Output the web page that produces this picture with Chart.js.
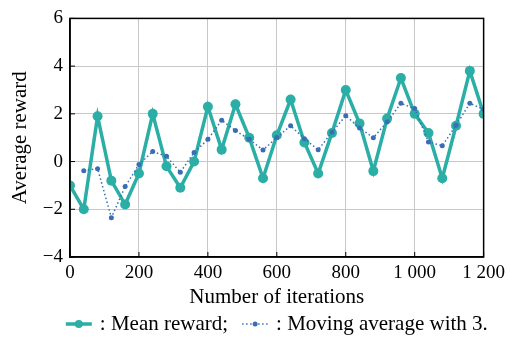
<!DOCTYPE html>
<html>
<head>
<meta charset="utf-8">
<script src="https://cdn.jsdelivr.net/npm/chart.js@4"></script>
<style>
  html, body { margin: 0; padding: 0; background: #fff; }
  #wrap { width: 510px; height: 337px; }
</style>
</head>
<body>
<div id="wrap"><canvas id="chart" width="510" height="337"></canvas></div>
<script>
// ============================
// data
// ============================
const iterations = [0, 40, 80, 120, 160, 200, 240, 280, 320, 360, 400, 440, 480, 520, 560, 600,
  640, 680, 720, 760, 800, 840, 880, 920, 960, 1000, 1040, 1080, 1120, 1160, 1200];
const meanReward = [-1.0, -2.0, 1.9, -0.8, -1.8, -0.5, 2.0, -0.2, -1.1, 0.0, 2.3, 0.5, 2.4, 1.0, -0.7, 1.1,
  2.6, 0.8, -0.5, 1.2, 3.0, 1.6, -0.4, 1.8, 3.5, 2.0, 1.2, -0.7, 1.5, 3.8, 2.0];
const movingAvg = [null, -0.38, -0.3, -2.35, -1.05, -0.12, 0.42, 0.22, -0.45, 0.38, 0.93, 1.73, 1.3, 0.93, 0.48, 1.01,
  1.5, 0.96, 0.49, 1.23, 1.92, 1.41, 1.0, 1.66, 2.44, 2.22, 0.82, 0.66, 1.52, 2.44, 2.19];
const xTicks = [0, 200, 400, 600, 800, 1000, 1200];
const yTicks = [-4, -2, 0, 2, 4, 6];

const TEAL = '#2aaea5';
const BLUE = '#3a6db5';
const FONT = '"Liberation Serif", "DejaVu Serif", serif';

function fmt(v) {
  let s = String(Math.abs(v));
  if (Math.abs(v) >= 1000) s = s.slice(0, -3) + ' ' + s.slice(-3);
  return (v < 0 ? '\u2212' : '') + s;
}

// cadre, graduations vers l'intérieur et légende
const framePlugin = {
  id: 'frame',
  afterDraw(chart) {
    const { ctx, chartArea: a, scales } = chart;
    ctx.save();
    ctx.strokeStyle = '#000';
    ctx.lineWidth = 1.5;
    ctx.strokeRect(a.left, a.top, a.right - a.left, a.bottom - a.top);
    ctx.lineWidth = 1;
    xTicks.forEach(v => {
      const x = scales.x.getPixelForValue(v);
      ctx.beginPath(); ctx.moveTo(x, a.bottom); ctx.lineTo(x, a.bottom - 5); ctx.stroke();
    });
    yTicks.forEach(v => {
      const y = scales.y.getPixelForValue(v);
      ctx.beginPath(); ctx.moveTo(a.left, y); ctx.lineTo(a.left + 5, y); ctx.stroke();
    });

    // legend
    ctx.font = '21px ' + FONT;
    ctx.textBaseline = 'middle';
    const t1 = ': Mean reward;';
    const t2 = ': Moving average with 3.';
    const sym = 26, gap = 8, sep = 14;
    const total = sym + gap + ctx.measureText(t1).width + sep + sym + gap + ctx.measureText(t2).width;
    let x = (a.left + a.right) / 2 - total / 2;
    const y = 324;
    ctx.strokeStyle = TEAL; ctx.lineWidth = 3.5;
    ctx.beginPath(); ctx.moveTo(x, y); ctx.lineTo(x + sym, y); ctx.stroke();
    ctx.fillStyle = TEAL;
    ctx.beginPath(); ctx.arc(x + sym / 2, y, 4, 0, Math.PI * 2); ctx.fill();
    x += sym + gap;
    ctx.fillStyle = '#000';
    ctx.fillText(t1, x, y);
    x += ctx.measureText(t1).width + sep;
    ctx.strokeStyle = BLUE; ctx.lineWidth = 1.5; ctx.setLineDash([1.5, 2.5]);
    ctx.beginPath(); ctx.moveTo(x, y); ctx.lineTo(x + sym, y); ctx.stroke();
    ctx.setLineDash([]);
    ctx.fillStyle = BLUE;
    ctx.beginPath(); ctx.arc(x + sym / 2, y, 2.5, 0, Math.PI * 2); ctx.fill();
    x += sym + gap;
    ctx.fillStyle = '#000';
    ctx.fillText(t2, x, y);
    ctx.restore();
  }
};

new Chart(document.getElementById('chart'), {
  type: 'line',
  data: {
    datasets: [
      {
        label: 'Moving average with 3',
        data: iterations.map((x, i) => ({ x, y: movingAvg[i] })),
        borderColor: BLUE,
        backgroundColor: BLUE,
        borderWidth: 1.5,
        borderDash: [1.5, 2.5],
        pointRadius: 2.5,
        pointBorderWidth: 0,
        tension: 0
      },
      {
        label: 'Mean reward',
        data: iterations.map((x, i) => ({ x, y: meanReward[i] })),
        borderColor: TEAL,
        backgroundColor: TEAL,
        borderWidth: 3.5,
        pointRadius: 5,
        pointBorderWidth: 0,
        tension: 0
      }
    ]
  },
  options: {
    responsive: false,
    animation: false,
    layout: { padding: { left: 0, right: 25, top: 13, bottom: 0 } },
    plugins: { legend: { display: false }, tooltip: { enabled: false } },
    scales: {
      x: {
        type: 'linear',
        min: 0, max: 1200,
        afterBuildTicks: s => { s.ticks = xTicks.map(v => ({ value: v })); },
        afterFit: s => { s.height = 80; },
        ticks: { color: '#000', font: { family: FONT, size: 19 }, padding: 5, maxRotation: 0, callback: v => fmt(v) },
        grid: { color: '#c8c8c8', lineWidth: 1, drawTicks: false },
        border: { color: '#000', width: 1.5 },
        title: { display: true, text: 'Number of iterations', color: '#000', font: { family: FONT, size: 21 }, padding: { top: 0, bottom: 27 } }
      },
      y: {
        min: -4, max: 6,
        afterBuildTicks: s => { s.ticks = yTicks.map(v => ({ value: v })); },
        afterFit: s => { s.width = 70; },
        ticks: { color: '#000', font: { family: FONT, size: 19 }, padding: 7, callback: v => fmt(v) },
        grid: { color: '#c8c8c8', lineWidth: 1, drawTicks: false },
        border: { color: '#000', width: 1.5 },
        title: { display: true, text: 'Average reward', color: '#000', font: { family: FONT, size: 21 }, padding: { top: 8, bottom: 0 } }
      }
    }
  },
  plugins: [framePlugin]
});
</script>
</body>
</html>
